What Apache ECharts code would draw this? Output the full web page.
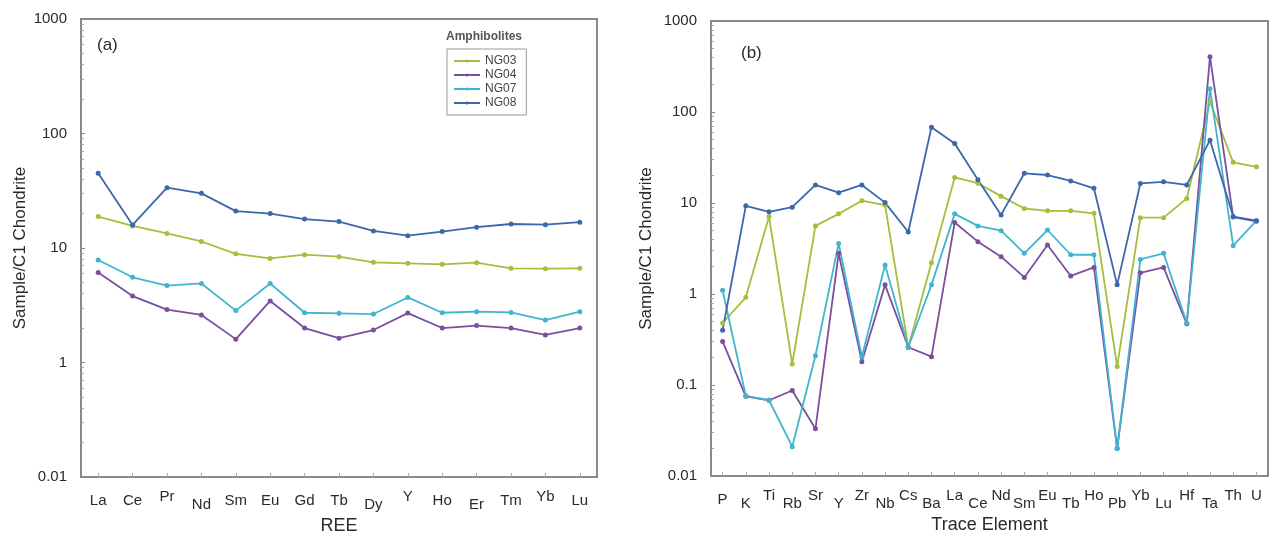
<!DOCTYPE html>
<html><head><meta charset="utf-8">
<script src="https://cdn.jsdelivr.net/npm/echarts@6/dist/echarts.min.js"></script>
<style>html,body{margin:0;padding:0;background:#fff}#c{width:1277px;height:546px}</style>
</head><body><div id="c"></div>
<script>
// ---- Data ----
const reeCats = ['La','Ce','Pr','Nd','Sm','Eu','Gd','Tb','Dy','Y','Ho','Er','Tm','Yb','Lu'];
const reeNG03 = [18.8,15.6,13.4,11.4,8.9,8.1,8.75,8.4,7.5,7.35,7.2,7.45,6.65,6.6,6.65];
const reeNG04 = [6.1,3.8,2.9,2.6,1.6,3.45,2.0,1.63,1.92,2.7,2.0,2.1,2.0,1.74,2.0];
const reeNG07 = [7.85,5.55,4.7,4.9,2.84,4.9,2.72,2.69,2.65,3.7,2.72,2.78,2.74,2.35,2.78];
const reeNG08 = [45,15.9,33.6,30,21,20,17.9,17,14.1,12.8,13.9,15.2,16.2,16,16.8];

const trCats = ['P','K','Ti','Rb','Sr','Y','Zr','Nb','Cs','Ba','La','Ce','Nd','Sm','Eu','Tb','Ho','Pb','Yb','Lu','Hf','Ta','Th','U'];
const trNG03 = [0.48,0.92,7.1,0.17,5.6,7.6,10.6,9.5,0.26,2.2,19.1,16.5,11.9,8.7,8.2,8.2,7.7,0.16,6.9,6.9,11.2,130,28,25];
const trNG04 = [0.3,0.075,0.068,0.087,0.033,2.8,0.18,1.26,0.26,0.205,6.1,3.76,2.57,1.52,3.45,1.58,1.96,0.02,1.71,1.96,0.47,405,7.0,6.3];
const trNG07 = [1.1,0.076,0.068,0.021,0.21,3.6,0.205,2.08,0.26,1.26,7.6,5.6,4.97,2.8,5.05,2.7,2.7,0.02,2.4,2.8,0.48,180,3.4,6.4];
const trNG08 = [0.4,9.3,8.0,9.0,15.8,13,15.8,10.1,4.8,68,45,18,7.4,21.2,20.3,17.5,14.5,1.26,16.4,17.1,15.8,49,7.1,6.4];

const seriesNames = ['NG03','NG04','NG07','NG08'];
const colors = ['#a3bf3c','#7b4f9d','#41b5cf','#3b67ad'];

const yTicksA = [0.1,1,10,100,1000];
const yTextA  = ['0.01','1','10','100','1000'];
const yTicksB = [0.01,0.1,1,10,100,1000];
const yTextB  = ['0.01','0.1','1','10','100','1000'];

// ---- Chart ----
const chart = echarts.init(document.getElementById('c'));
const FONT = 'Liberation Sans, Arial, sans-serif';
const txt = '#2a2a2a';
const frame = '#8a8a8a';

function yAxis(gridIndex, min, ticks, texts){
  return {
    type:'log', logBase:10, gridIndex, min, max:1000,
    name:'Sample/C1 Chondrite', nameLocation:'middle', nameGap: gridIndex===0?52:56,
    nameTextStyle:{fontSize:17, color:txt, fontFamily:FONT},
    axisLine:{show:true, lineStyle:{color:frame, width:2}},
    axisTick:{show:true, inside:true, length:4, lineStyle:{color:frame}},
    minorTick:{show:true, splitNumber:9, length:3, lineStyle:{color:'#aaa'}},
    splitLine:{show:false},
    axisLabel:{fontSize:15, color:txt, fontFamily:FONT, margin:14,
      formatter:v=>{ for(let i=0;i<ticks.length;i++){ if(Math.abs(Math.log10(v)-Math.log10(ticks[i]))<1e-6) return texts[i]; } return ''; }}
  };
}

function xAxis(gridIndex, cats, name, stagger){
  return {
    type:'category', gridIndex, data:cats, boundaryGap:true,
    name, nameLocation:'middle', nameGap: gridIndex===0?37:39,
    nameTextStyle:{fontSize:18, color:txt, fontFamily:FONT},
    axisLine:{show:true, lineStyle:{color:frame, width:2}},
    axisTick:{show:true, inside:true, length:4, alignWithLabel:true, lineStyle:{color:'#aaa'}},
    axisLabel:{interval:0, fontSize:15, color:txt, fontFamily:FONT, margin:12,
      formatter:(v,i)=> stagger(v,i),
      rich:{
        hi:{fontSize:15, color:txt, fontFamily:FONT, padding:[0,0,8,0]},
        lo:{fontSize:15, color:txt, fontFamily:FONT, padding:[8,0,0,0]},
        m:{fontSize:15, color:txt, fontFamily:FONT, padding:[4,0,4,0]}
      }}
  };
}

const staggerA = (v,i)=>{
  const hi=['Pr','Y','Yb'], lo=['Nd','Er','Dy'];
  if(hi.includes(v)) return '{hi|'+v+'}';
  if(lo.includes(v)) return '{lo|'+v+'}';
  return '{m|'+v+'}';
};
const staggerB = (v,i)=>{
  if(i===0) return '{m|'+v+'}';
  if(i===trCats.length-1) return '{hi|'+v+'}';
  return i%2 ? '{lo|'+v+'}' : '{hi|'+v+'}';
};

function mk(name, data, xi, yi, c){
  return {name, type:'line', xAxisIndex:xi, yAxisIndex:yi, data,
    symbol:'circle', symbolSize:5, lineStyle:{color:c, width:1.8},
    itemStyle:{color:c}, z: 2};
}
const reeData=[reeNG03,reeNG04,reeNG07,reeNG08];
const trData=[trNG03,trNG04,trNG07,trNG08];
const series=[];
seriesNames.forEach((n,k)=>series.push(mk(n, reeData[k],0,0,colors[k])));
seriesNames.forEach((n,k)=>series.push(mk(n, trData[k],1,1,colors[k])));

chart.setOption({
  animation:false,
  color:colors,
  textStyle:{fontFamily:FONT},
  grid:[
    {left:81, right:680, top:19, bottom:69, show:true, borderColor:frame, borderWidth:2},
    {left:711, right:9, top:21, bottom:70, show:true, borderColor:frame, borderWidth:2}
  ],
  xAxis:[xAxis(0, reeCats, 'REE', staggerA), xAxis(1, trCats, 'Trace Element', staggerB)],
  yAxis:[yAxis(0, 0.1, yTicksA, yTextA), yAxis(1, 0.01, yTicksB, yTextB)],
  title:[
    {text:'(a)', left:92, top:32, textStyle:{fontSize:17, fontWeight:'normal', color:txt, fontFamily:FONT}},
    {text:'(b)', left:736, top:40, textStyle:{fontSize:17, fontWeight:'normal', color:txt, fontFamily:FONT}},
    {text:'Amphibolites', left:441, top:26, textStyle:{fontSize:12, fontWeight:'bold', color:'#555', fontFamily:FONT}}
  ],
  legend:{data:seriesNames, orient:'vertical', left:447, top:49, itemGap:2,
    itemWidth:26, itemHeight:4, padding:[6,10,6,6],
    borderColor:'#999', borderWidth:1,
    textStyle:{fontSize:12, color:'#444', fontFamily:FONT}},
  series
});
</script></body></html>
